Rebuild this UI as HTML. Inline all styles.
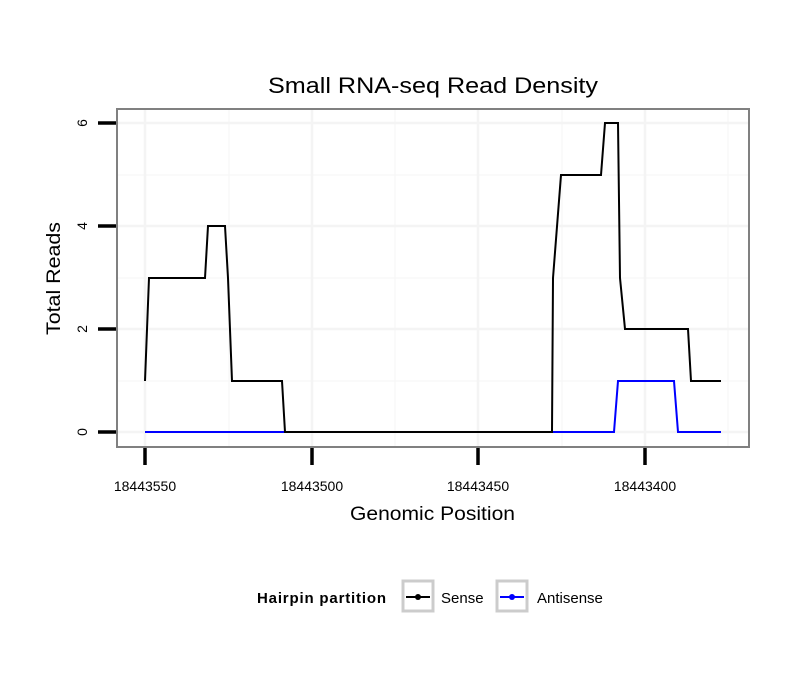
<!DOCTYPE html>
<html><head><style>body{margin:0;background:#fff}</style></head><body>
<svg width="810" height="690" xmlns="http://www.w3.org/2000/svg" font-family="Liberation Sans, sans-serif">
<rect width="810" height="690" fill="#fff"/>
<text x="268" y="93" font-size="22" textLength="330" lengthAdjust="spacingAndGlyphs">Small RNA-seq Read Density</text>
<g stroke="#f8f8f8" stroke-width="1.5">
<line x1="117" x2="749" y1="381" y2="381"/><line x1="117" x2="749" y1="278" y2="278"/><line x1="117" x2="749" y1="175" y2="175"/>
<line x1="229" x2="229" y1="109" y2="447"/><line x1="395" x2="395" y1="109" y2="447"/><line x1="562" x2="562" y1="109" y2="447"/><line x1="728" x2="728" y1="109" y2="447"/>
</g>
<g stroke="#f4f4f4" stroke-width="2.5">
<line x1="117" x2="749" y1="432" y2="432"/><line x1="117" x2="749" y1="329" y2="329"/><line x1="117" x2="749" y1="226" y2="226"/><line x1="117" x2="749" y1="123" y2="123"/>
<line x1="145" x2="145" y1="109" y2="447"/><line x1="312" x2="312" y1="109" y2="447"/><line x1="478" x2="478" y1="109" y2="447"/><line x1="645" x2="645" y1="109" y2="447"/>
</g>
<polyline fill="none" stroke="#0000ff" stroke-width="2" points="145,432 614,432 618,381 674,381 678,432 721,432"/>
<polyline fill="none" stroke="#000" stroke-width="2" points="145,381 149,278 205,278 208,226 225,226 228,278 232,381 282,381 285,432 552,432 553,278 561,175 601,175 605,123 618,123 620,278 625,329 688,329 691,381 721,381"/>
<rect x="117" y="109" width="632" height="338" fill="none" stroke="#808080" stroke-width="2"/>
<g stroke="#000" stroke-width="3.5">
<line x1="98" x2="116" y1="432" y2="432"/><line x1="98" x2="116" y1="329" y2="329"/><line x1="98" x2="116" y1="226" y2="226"/><line x1="98" x2="116" y1="123" y2="123"/>
<line x1="145" x2="145" y1="448" y2="465"/><line x1="312" x2="312" y1="448" y2="465"/><line x1="478" x2="478" y1="448" y2="465"/><line x1="645" x2="645" y1="448" y2="465"/>
</g>
<g font-size="14" text-anchor="middle">
<text transform="translate(87,432) rotate(-90)">0</text>
<text transform="translate(87,329) rotate(-90)">2</text>
<text transform="translate(87,226) rotate(-90)">4</text>
<text transform="translate(87,123) rotate(-90)">6</text>
<text x="145" y="491">18443550</text><text x="312" y="491">18443500</text><text x="478" y="491">18443450</text><text x="645" y="491">18443400</text>
</g>
<text x="350" y="520" font-size="19" textLength="165" lengthAdjust="spacingAndGlyphs">Genomic Position</text>
<text transform="translate(60,335) rotate(-90)" font-size="19" textLength="113" lengthAdjust="spacingAndGlyphs">Total Reads</text>
<text x="257" y="603" font-size="15" font-weight="bold" textLength="129">Hairpin partition</text>
<rect x="403" y="581" width="30" height="30" fill="#fff" stroke="#ccc" stroke-width="3"/>
<line x1="406" x2="430" y1="597" y2="597" stroke="#000" stroke-width="2"/><circle cx="418" cy="597" r="3" fill="#000"/>
<text x="441" y="603" font-size="15">Sense</text>
<rect x="497" y="581" width="30" height="30" fill="#fff" stroke="#ccc" stroke-width="3"/>
<line x1="500" x2="524" y1="597" y2="597" stroke="#0000ff" stroke-width="2"/><circle cx="512" cy="597" r="3" fill="#0000ff"/>
<text x="537" y="603" font-size="15">Antisense</text>
</svg>
</body></html>
